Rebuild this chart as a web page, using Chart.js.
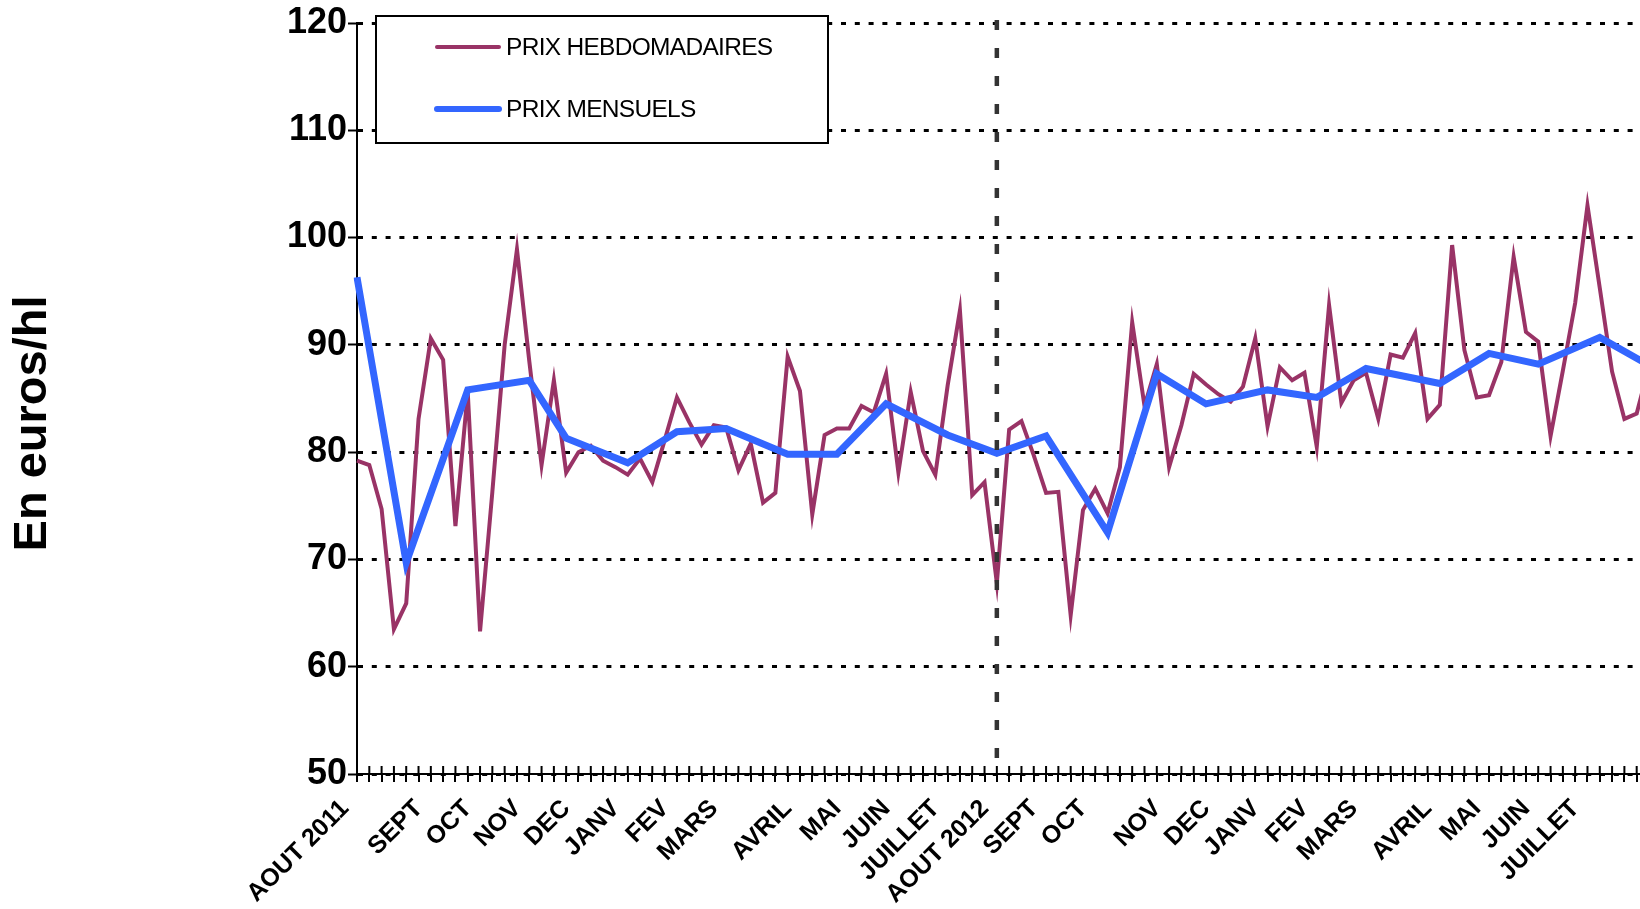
<!DOCTYPE html>
<html lang="fr">
<head>
  <meta charset="UTF-8" />
  <title>Prix hebdomadaires et mensuels</title>
  <script src="https://cdn.jsdelivr.net/npm/chart.js@4.4.1/dist/chart.umd.min.js"></script>
  <style>
    html, body { margin: 0; padding: 0; background: #fff; overflow: hidden; }
    #wrap { position: relative; width: 1700px; height: 909px; }
  </style>
</head>
<body>
  <div id="wrap"><canvas id="prixChart"></canvas></div>

  <script>
    // weekly prices, one value per week from AOUT 2011
    const weeklyPrice = [
      79.2, 78.8, 74.7, 63.5, 65.9, 83.1, 90.6, 88.6, 73.1, 85.6,
      63.3, 76.3, 90.0, 98.9, 88.5, 78.8, 86.7, 78.1, 80.0, 80.6,
      79.2, 78.6, 77.9, 79.4, 77.2, 81.1, 85.1, 82.8, 80.7, 82.5,
      82.3, 78.3, 80.8, 75.3, 76.2, 88.9, 85.7, 74.2, 81.6, 82.2,
      82.2, 84.3, 83.7, 87.3, 78.1, 85.6, 80.1, 77.9, 86.2, 93.2,
      76.0, 77.2, 67.8, 82.1, 82.9, 79.7, 76.2, 76.3, 64.8, 74.6,
      76.6, 74.3, 78.6, 92.1, 84.3, 88.2, 78.6, 82.5, 87.3, 86.3,
      85.4, 84.7, 86.1, 90.6, 82.4, 87.9, 86.7, 87.4, 80.5, 93.7,
      84.6, 86.7, 87.4, 83.1, 89.1, 88.8, 91.1, 83.1, 84.4, 99.3,
      89.5, 85.1, 85.3, 88.4, 98.2, 91.2, 90.3, 81.5, 87.6, 93.9,
      103.0, 95.3, 87.5, 83.1, 83.6, 88.0
    ];

    // monthly prices and the week where each one is plotted
    const monthlyWeek  = [0, 4, 9, 14, 17, 22, 26, 30, 35, 39, 43, 48, 52, 56, 61, 65, 69, 74, 78, 82, 88, 92, 96, 101, 105];
    const monthlyPrice = [96.3, 69.7, 85.8, 86.7, 81.3, 79.0, 81.9, 82.2, 79.8, 79.8, 84.5, 81.6, 79.9,
                          81.5, 72.5, 87.3, 84.5, 85.8, 85.1, 87.8, 86.4, 89.2, 88.2, 90.7, 88.1];

    // month names on the category axis
    const monthLabels = ['AOUT 2011', 'SEPT', 'OCT', 'NOV', 'DEC', 'JANV', 'FEV', 'MARS', 'AVRIL', 'MAI', 'JUIN', 'JUILLET',
                         'AOUT 2012', 'SEPT', 'OCT', 'NOV', 'DEC', 'JANV', 'FEV', 'MARS', 'AVRIL', 'MAI', 'JUIN', 'JUILLET'];
    const labelWeek   = [0, 6, 10, 14, 18, 22, 26, 30, 36, 40, 44, 48, 52, 56, 60, 66, 70, 74, 78, 82, 88, 92, 96, 100];

    const yTicks = [50, 60, 70, 80, 90, 100, 110, 120];
    const splitWeek = 52; // AOUT 2012

    const weekLabels = weeklyPrice.map(() => '');
    labelWeek.forEach((w, i) => { weekLabels[w] = monthLabels[i]; });

    const monthlyData = weeklyPrice.map(() => null);
    monthlyWeek.forEach((w, i) => { monthlyData[w] = monthlyPrice[i]; });

    const FONT = '"Liberation Sans", Arial, sans-serif';

    // ticks of the x axis cross the axis line: draw the upper half
    const crossTicks = {
      id: 'crossTicks',
      afterDraw(chart) {
        const { ctx } = chart;
        const xs = chart.scales.x;
        ctx.save();
        ctx.strokeStyle = '#000';
        ctx.lineWidth = 2;
        ctx.beginPath();
        xs.ticks.forEach((t, i) => {
          const x = xs.getPixelForTick(i);
          ctx.moveTo(x, xs.top - 8);
          ctx.lineTo(x, xs.top);
        });
        ctx.stroke();
        ctx.restore();
      }
    };

    // dashed vertical separator at AOUT 2012
    const splitLine = {
      id: 'splitLine',
      afterDatasetsDraw(chart) {
        const { ctx, chartArea } = chart;
        const x = chart.scales.x.getPixelForValue(splitWeek);
        ctx.save();
        ctx.strokeStyle = '#333';
        ctx.lineWidth = 4.5;
        ctx.setLineDash([10, 18]);
        ctx.beginPath();
        ctx.moveTo(x, chartArea.top - 3);
        ctx.lineTo(x, chartArea.bottom);
        ctx.stroke();
        ctx.restore();
      }
    };

    // boxed legend inside the plot + y axis title
    const legendBox = {
      id: 'legendBox',
      afterDraw(chart) {
        const { ctx, chartArea } = chart;
        const x0 = chartArea.left + 19, y0 = 16, w = 452, h = 127;
        ctx.save();
        ctx.fillStyle = '#fff';
        ctx.fillRect(x0, y0, w, h);
        ctx.strokeStyle = '#000';
        ctx.lineWidth = 2;
        ctx.strokeRect(x0, y0, w, h);
        ctx.font = '24.5px ' + FONT;
        ctx.letterSpacing = '-0.7px';
        ctx.textBaseline = 'middle';
        chart.data.datasets.forEach((ds, i) => {
          const y = y0 + 31 + i * 62;
          ctx.strokeStyle = ds.borderColor;
          ctx.lineWidth = i === 0 ? 4 : 6;
          ctx.lineCap = 'round';
          ctx.beginPath();
          ctx.moveTo(x0 + 61, y);
          ctx.lineTo(x0 + 123, y);
          ctx.stroke();
          ctx.fillStyle = '#000';
          ctx.fillText(ds.label, x0 + 130, y + 1);
        });
        ctx.restore();

        ctx.save();
        ctx.translate(33, (chartArea.top + chartArea.bottom) / 2 + 25);
        ctx.rotate(-Math.PI / 2);
        ctx.font = 'bold 47px ' + FONT;
        ctx.fillStyle = '#000';
        ctx.textAlign = 'center';
        ctx.textBaseline = 'middle';
        ctx.fillText('En euros/hl', 0, 0);
        ctx.restore();
      }
    };

    const ctx = document.getElementById('prixChart').getContext('2d');
    new Chart(ctx, {
      type: 'line',
      data: {
        labels: weekLabels,
        datasets: [
          {
            label: 'PRIX HEBDOMADAIRES',
            data: weeklyPrice,
            borderColor: '#993366',
            borderWidth: 4,
            pointRadius: 0,
            tension: 0,
            order: 2
          },
          {
            label: 'PRIX MENSUELS',
            data: monthlyData,
            borderColor: '#3366FF',
            borderWidth: 7,
            pointRadius: 0,
            tension: 0,
            spanGaps: true,
            order: 1
          }
        ]
      },
      options: {
        animation: false,
        responsive: true,
        maintainAspectRatio: false,
        events: [],
        layout: { padding: { top: 23, right: 51, left: 0, bottom: 0 } },
        plugins: { legend: { display: false }, tooltip: { enabled: false } },
        scales: {
          x: {
            grid: { drawOnChartArea: false, color: '#000', lineWidth: 2, tickLength: 8 },
            border: { color: '#000', width: 2 },
            ticks: {
              autoSkip: false,
              minRotation: 45,
              maxRotation: 45,
              padding: 12,
              labelOffset: -12,
              color: '#000',
              font: { family: FONT, size: 25, weight: 'bold' }
            },
            afterFit(scale) { scale.height = 135; }
          },
          y: {
            min: 50,
            max: 120,
            afterBuildTicks(scale) { scale.ticks = yTicks.map(v => ({ value: v })); },
            grid: { color: '#000', lineWidth: 3, tickLength: 9, tickWidth: 2, tickColor: '#000', tickBorderDash: [] },
            border: { color: '#000', width: 2, dash: [5, 8.8] },
            ticks: {
              padding: 1,
              color: '#000',
              font: { family: FONT, size: 36, weight: 'bold' }
            },
            afterFit(scale) { scale.width = 357; }
          }
        }
      },
      plugins: [crossTicks, splitLine, legendBox]
    });
  </script>
</body>
</html>
